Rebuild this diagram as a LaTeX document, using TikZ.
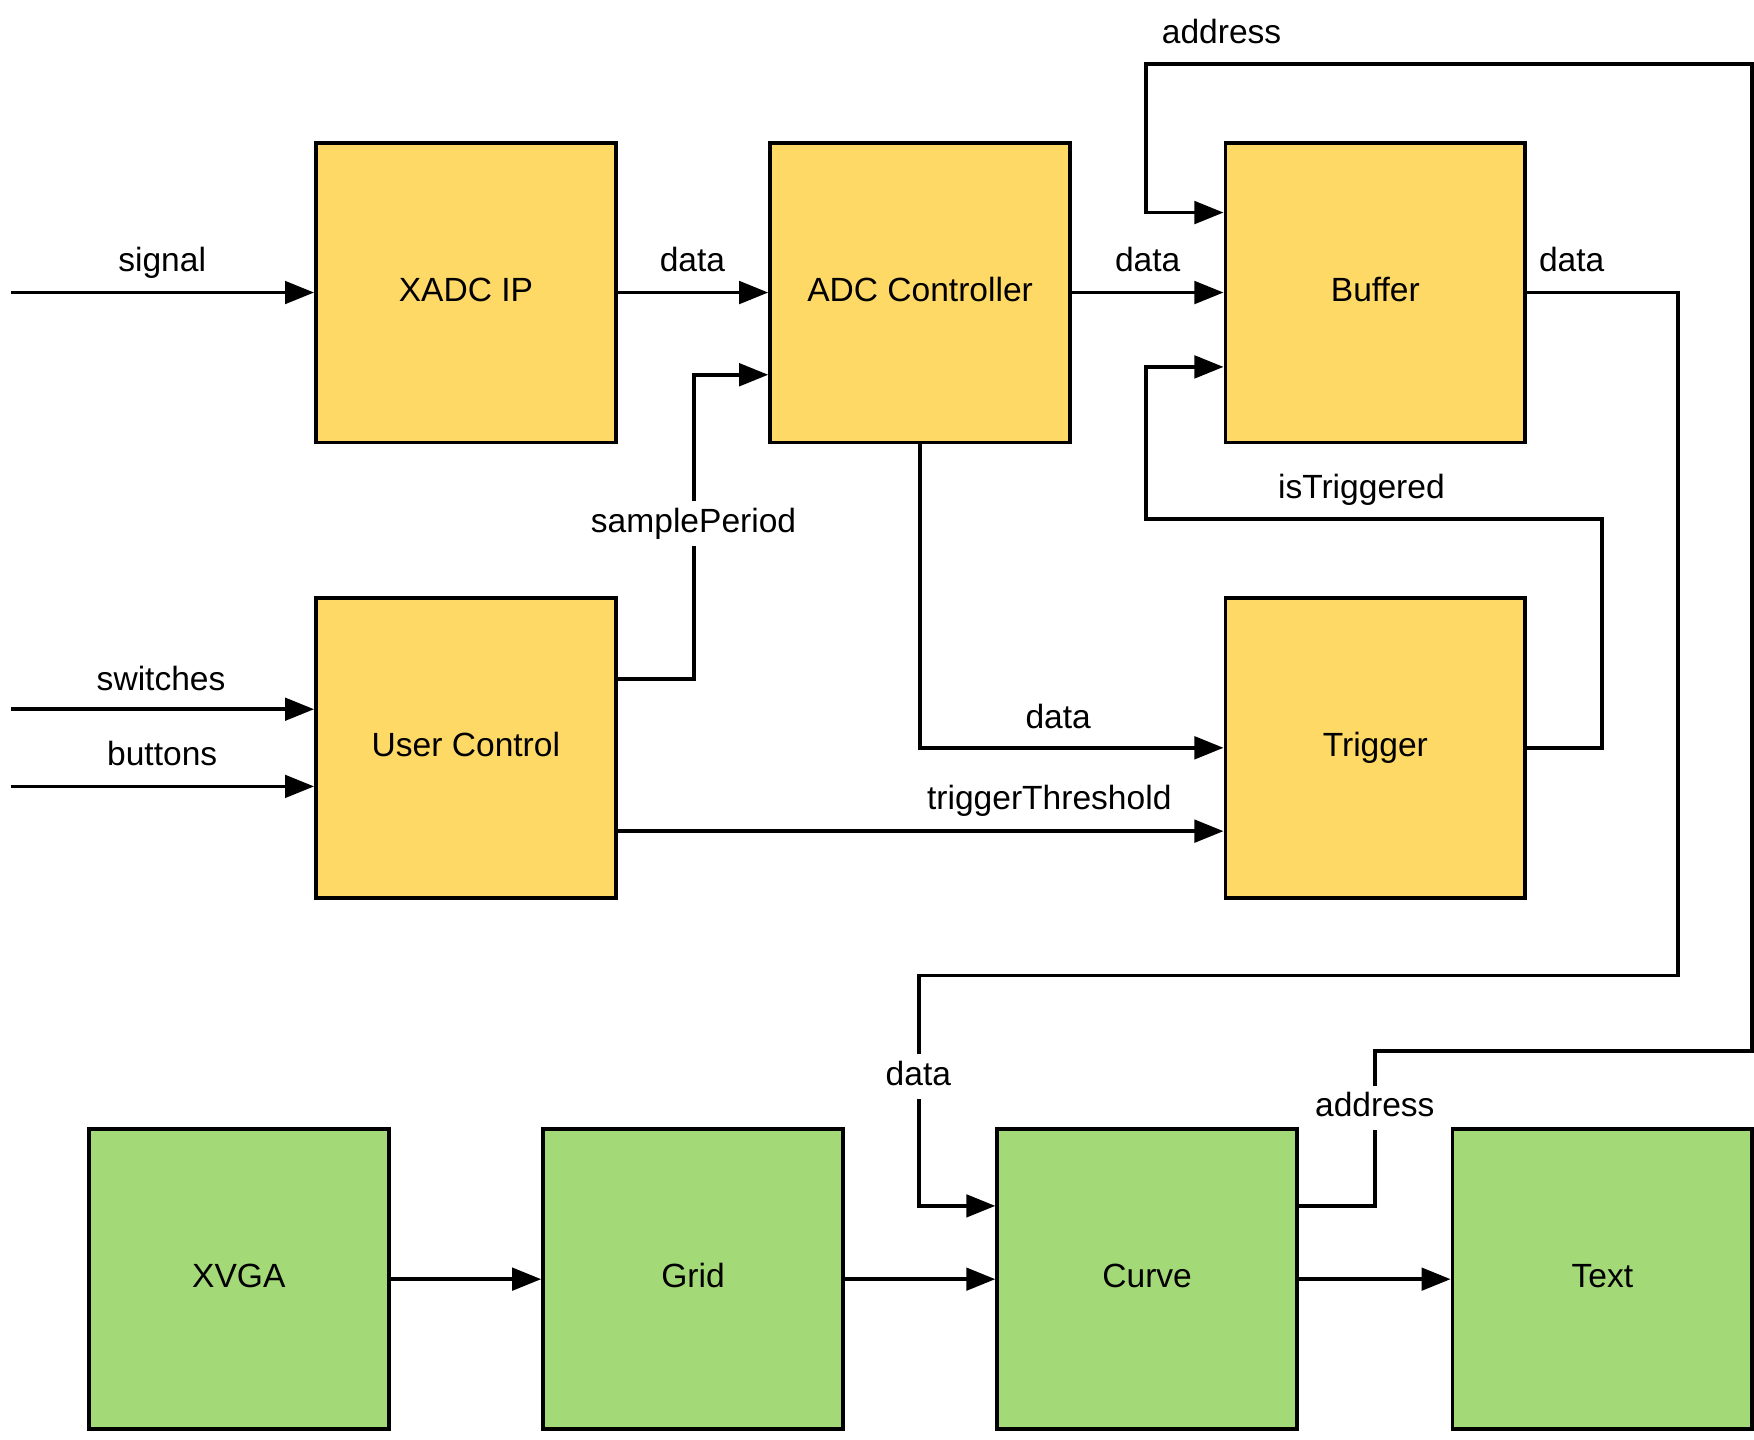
\documentclass[tikz,border=0pt]{standalone}
\usepackage{fontspec}
\setmainfont{Liberation Sans}
\usetikzlibrary{arrows.meta}
\definecolor{blockyellow}{HTML}{FFD966}
\definecolor{blockgreen}{HTML}{A3D977}
\begin{document}
\begin{tikzpicture}[x=0.5pt,y=-0.5pt,
  labelfont/.style={font=\fontsize{15}{18}\selectfont},
  block/.style={draw=black, line width=1.7pt, minimum width=134pt,
    minimum height=134pt, inner sep=0pt, text height=11pt, text depth=3.3pt,
    labelfont},
  yblock/.style={block, fill=blockyellow},
  gblock/.style={block, fill=blockgreen},
  wire/.style={line width=1.7pt},
  arr/.style={wire, -{Triangle[length=13pt,width=10pt]}},
  lbl/.style={labelfont, inner sep=0pt, anchor=base},
  onwire/.style={lbl, fill=white, text height=11pt, text depth=3pt,
    inner xsep=2pt, inner ysep=3pt}
]
\useasboundingbox (0,0) rectangle (1568,1287);

% acquisition blocks
\node[yblock] (xadc)    at (416.5,261.5)  {XADC IP};
\node[yblock] (adc)     at (822.5,261.5)  {ADC Controller};
\node[yblock] (buffer)  at (1229.5,261.5) {Buffer};
\node[yblock] (user)    at (416.5,668.5)  {User Control};
\node[yblock] (trigger) at (1229.5,668.5) {Trigger};

% display blocks
\node[gblock] (xvga)  at (213.5,1143.5)  {XVGA};
\node[gblock] (grid)  at (619.5,1143.5)  {Grid};
\node[gblock] (curve) at (1025.5,1143.5) {Curve};
\node[gblock] (txt)   at (1432.5,1143.5) {Text};

% external inputs
\coordinate (sigin) at (10,261.5);
\coordinate (swin)  at (10,634);
\coordinate (btin)  at (10,703);

\draw[arr] (sigin) -- (xadc.west);
\draw[arr] (swin) -- (swin -| user.west);
\draw[arr] (btin) -- (btin -| user.west);

% acquisition path
\draw[arr] (xadc) -- (adc);
\draw[arr] (adc) -- (buffer);
\draw[arr] ([yshift=30.75pt]user.east) -- ++(68,0) |- ([yshift=-36.75pt]adc.west);
\draw[arr] (adc.south) |- (trigger.west);
\draw[arr] ([yshift=-37.25pt]user.east) -- ([yshift=-37.25pt]trigger.west);
\draw[arr] (trigger.east) -- ++(67,0) -- ++(0,-204.5) -- ++(-408,0)
  |- ([yshift=-33.25pt]buffer.west);

% buffer read-out to the curve renderer
\draw[arr] (buffer.east) -- ++(135,0) -- ++(0,610.5) -- ++(-679,0)
  |- ([yshift=32.75pt]curve.west);
\draw[arr] ([yshift=32.75pt]curve.east) -- ++(68,0) -- ++(0,-138.5)
  -- ++(337,0) -- ++(0,-882) -- ++(-542,0) |- ([yshift=35.75pt]buffer.west);

% display chain
\draw[arr] (xvga) -- (grid);
\draw[arr] (grid) -- (curve);
\draw[arr] (curve) -- (txt);

% signal names
\node[lbl] (lsig)  at (145,243)  {signal};
\node[lbl] (ld1)   at (619,243)  {data};
\node[lbl] (ld2)   at (1026,243) {data};
\node[lbl] (ld3)   at (1405,243) {data};
\node[lbl] (laddr) at (1092,39)  {address};
\node[lbl] (lis)   at (1217,446) {isTriggered};
\node[lbl] (lsw)   at (144,617)  {switches};
\node[lbl] (lbt)   at (145,684)  {buttons};
\node[lbl] (ld4)   at (946,651)  {data};
\node[lbl] (lthr)  at (938,724)  {triggerThreshold};

\node[onwire] (lsp)    at (620,476)    {samplePeriod};
\node[onwire] (ld5)    at (821,970)    {data};
\node[onwire] (laddr2) at (1229,998.5) {address};
\end{tikzpicture}
\end{document}
